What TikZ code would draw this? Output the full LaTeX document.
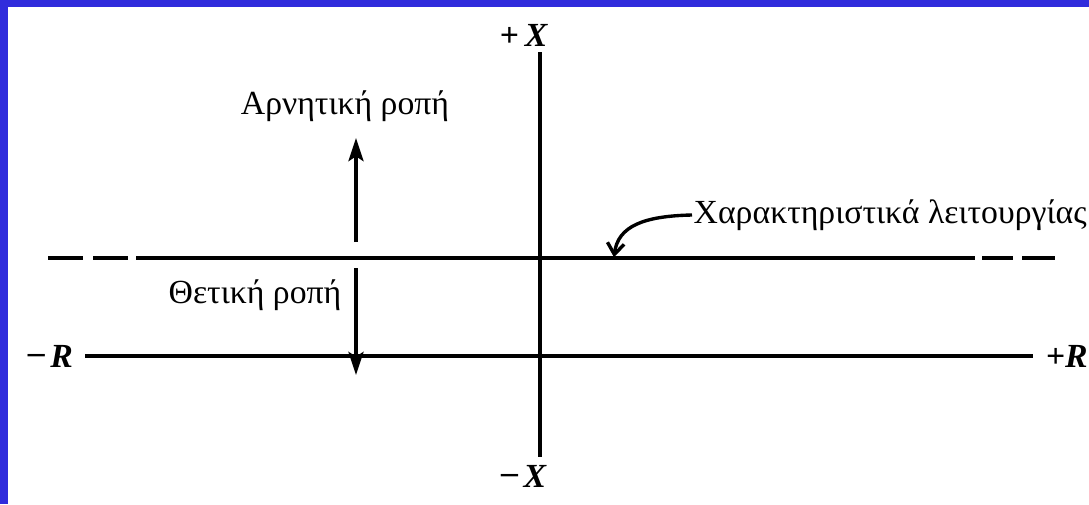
\documentclass[tikz,border=0pt]{standalone}
\usepackage{fontspec}
\setmainfont{Liberation Serif}
\usetikzlibrary{positioning, arrows.meta}
\usepackage{xcolor}
\definecolor{slideblue}{HTML}{302CDC}

\begin{document}
\begin{tikzpicture}[
      every node/.style={font=\fontsize{24}{28}\selectfont, inner sep=1pt},
      axislbl/.style={font=\fontsize{24}{28}\selectfont\bfseries},
      axisline/.style={line width=2.4pt},
      momarrow/.style={line width=2.2pt, -{Stealth[length=0.58cm, width=0.38cm, inset=0.12cm]}},
      notearrow/.style={line width=2.4pt, -{Straight Barb[length=0.28cm, width=0.42cm]}},
    ]
    % frame
    \useasboundingbox (0,0) rectangle (27.225,12.6);
    \fill[slideblue] (0,0) rectangle (27.225,12.6);
    \fill[white] (0.2,0) rectangle (27.225,12.425);

    % X axis (vertical)
    \node[axislbl] (px) at (13.1,11.72) {+\,\textit{X}};
    \node[axislbl] (mx) at (13.1,0.7) {\raisebox{0.2ex}{--}\,\textit{X}};
    \coordinate (xtop) at (13.5,11.3);
    \coordinate (xbot) at (13.5,1.175);
    \draw[axisline] (xtop) -- (xbot);

    % R axis (horizontal)
    \node[axislbl] (mr) at (1.26,3.7) {\raisebox{0.2ex}{--}\,\textit{R}};
    \node[axislbl, anchor=east, inner sep=0pt] (pr) at (27.2,3.7) {+\textit{R}};
    \coordinate (rl) at (2.125,3.7);
    \coordinate (rr) at (25.825,3.7);
    \draw[axisline] (rl) -- (rr);

    % operating characteristic
    \coordinate (opl) at (1.2,6.15);
    \coordinate (opr) at (26.375,6.15);
    \draw[axisline, dash pattern=on 0.875cm off 0.25cm on 0.875cm off 0.2cm on 20.975cm off 0.175cm on 0.775cm off 0.225cm on 0.825cm off 2cm] (opl) -- (opr);

    % torque arrows
    \coordinate (ub) at (8.9,6.55);
    \coordinate (db) at (8.9,5.9);
    \node (neg) at (8.625,9.95) {Αρνητική ροπή};
    \node (pos) at (6.375,5.225) {Θετική ροπή};
    \coordinate (ut) at (8.9,9.15);
    \coordinate (dt) at (8.9,3.225);
    \draw[momarrow] (ub) -- (ut);
    \draw[momarrow] (db) -- (dt);

    % label with curved pointer
    \node[anchor=west] (chr) at (17.3,7.225) {Χαρακτηριστικά λειτουργίας};
    \coordinate (touch) at (15.35,6.17);
    \draw[notearrow] (chr.west) .. controls (16.1,7.2) and (15.45,6.95) .. (touch);
  \end{tikzpicture}
\end{document}
